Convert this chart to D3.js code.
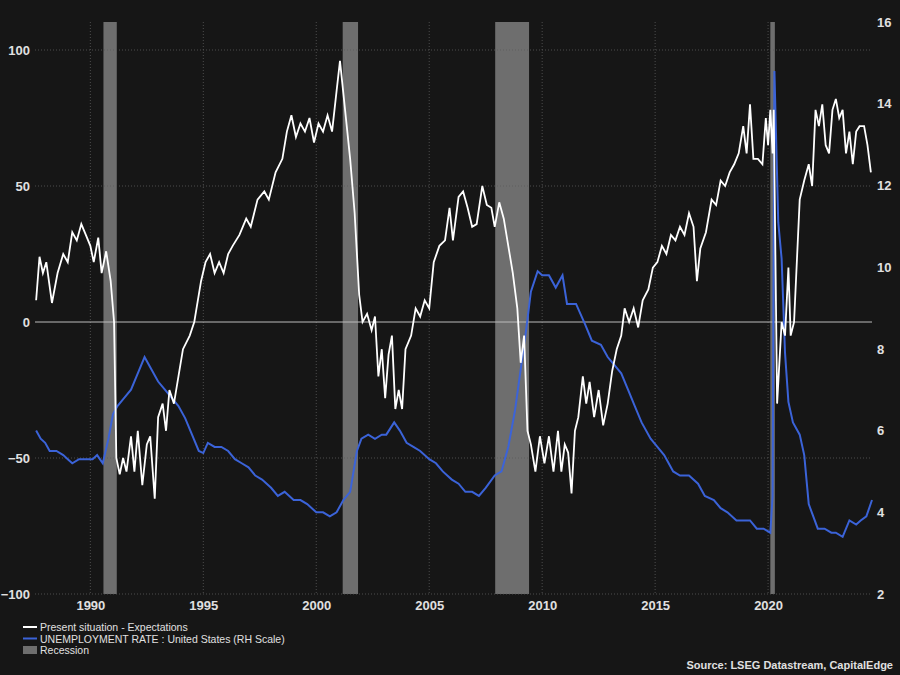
<!DOCTYPE html>
<html>
<head>
<meta charset="utf-8">
<script src="https://cdn.jsdelivr.net/npm/d3@7"></script>
<style>
  body { margin: 0; background: #161616; }
  text { font-family: "Liberation Sans Narrow", "Liberation Sans", sans-serif; }
</style>
</head>
<body>
<svg id="chart" width="900" height="675"></svg>
<script>
// Present situation - Expectations: [decimal year, value]
const presentMinusExp = [
  [1987.6, 8], [1987.75, 24], [1987.9, 18], [1988.05, 22], [1988.3, 7], [1988.55, 18], [1988.8, 25],
  [1989.0, 22], [1989.2, 33], [1989.4, 30], [1989.6, 36], [1989.8, 32], [1990.0, 28], [1990.15, 22],
  [1990.35, 31], [1990.5, 18], [1990.7, 26], [1990.9, 15], [1991.05, 0], [1991.15, -50], [1991.3, -56],
  [1991.45, -50], [1991.6, -55], [1991.8, -42], [1991.95, -55], [1992.1, -40], [1992.3, -60],
  [1992.5, -45], [1992.65, -42], [1992.85, -65], [1993.0, -35], [1993.2, -30], [1993.35, -40],
  [1993.5, -25], [1993.7, -30], [1993.9, -20], [1994.1, -10], [1994.4, -5], [1994.6, 0], [1994.9, 15],
  [1995.1, 22], [1995.3, 25], [1995.5, 18], [1995.7, 22], [1995.9, 18], [1996.1, 25], [1996.3, 28],
  [1996.6, 32], [1996.9, 38], [1997.1, 35], [1997.4, 45], [1997.7, 48], [1997.9, 45], [1998.2, 55],
  [1998.5, 60], [1998.7, 70], [1998.9, 76], [1999.1, 68], [1999.3, 73], [1999.5, 70], [1999.7, 75],
  [1999.9, 66], [2000.1, 73], [2000.3, 70], [2000.5, 76], [2000.7, 70], [2000.9, 85], [2001.05, 96],
  [2001.25, 80], [2001.5, 60], [2001.7, 40], [2001.9, 10], [2002.05, 0], [2002.25, 3], [2002.45, -3],
  [2002.6, 2], [2002.75, -20], [2002.9, -10], [2003.05, -28], [2003.2, -12], [2003.35, -5],
  [2003.5, -32], [2003.65, -25], [2003.8, -32], [2003.95, -10], [2004.2, -5], [2004.4, 5], [2004.6, 2],
  [2004.8, 8], [2005.0, 5], [2005.2, 22], [2005.45, 28], [2005.7, 30], [2005.9, 42], [2006.05, 30],
  [2006.3, 46], [2006.5, 48], [2006.7, 42], [2006.9, 35], [2007.1, 36], [2007.35, 50], [2007.55, 43],
  [2007.75, 42], [2007.9, 35], [2008.1, 44], [2008.3, 38], [2008.5, 28], [2008.7, 18], [2008.9, 5],
  [2009.05, -15], [2009.2, -5], [2009.35, -40], [2009.5, -45], [2009.7, -55], [2009.9, -42],
  [2010.1, -52], [2010.3, -42], [2010.5, -55], [2010.7, -40], [2010.85, -55], [2011.0, -45],
  [2011.15, -48], [2011.3, -63], [2011.45, -40], [2011.6, -35], [2011.8, -20], [2011.95, -30],
  [2012.1, -22], [2012.3, -35], [2012.5, -25], [2012.7, -38], [2012.9, -30], [2013.1, -18],
  [2013.3, -10], [2013.5, -5], [2013.65, 5], [2013.85, 0], [2014.05, 5], [2014.25, -2], [2014.45, 8],
  [2014.7, 12], [2014.9, 20], [2015.1, 22], [2015.3, 28], [2015.5, 25], [2015.7, 32], [2015.9, 30],
  [2016.1, 35], [2016.3, 32], [2016.5, 40], [2016.7, 35], [2016.85, 15], [2017.0, 27], [2017.25, 33],
  [2017.5, 45], [2017.7, 43], [2017.9, 52], [2018.1, 50], [2018.3, 55], [2018.5, 58], [2018.7, 62],
  [2018.9, 72], [2019.05, 62], [2019.2, 80], [2019.35, 60], [2019.55, 60], [2019.75, 58],
  [2019.9, 75], [2020.0, 65], [2020.1, 78], [2020.2, 62], [2020.25, 78], [2020.4, -30], [2020.6, 0],
  [2020.75, -5], [2020.9, 20], [2021.0, -5], [2021.15, 0], [2021.4, 45], [2021.6, 52], [2021.8, 58],
  [2021.95, 50], [2022.1, 78], [2022.25, 72], [2022.4, 80], [2022.55, 65], [2022.7, 62],
  [2022.85, 78], [2023.0, 82], [2023.15, 75], [2023.3, 78], [2023.45, 62], [2023.6, 70],
  [2023.75, 58], [2023.9, 70], [2024.05, 72], [2024.25, 72], [2024.4, 65], [2024.55, 55]
];

// UNEMPLOYMENT RATE : United States (%), right scale
const unemployment = [
  [1987.6, 6.0], [1987.8, 5.8], [1988.0, 5.7], [1988.2, 5.5], [1988.5, 5.5], [1988.8, 5.4],
  [1989.0, 5.3], [1989.2, 5.2], [1989.5, 5.3], [1989.8, 5.3], [1990.1, 5.3], [1990.3, 5.4],
  [1990.55, 5.2], [1990.8, 5.8], [1991.0, 6.4], [1991.2, 6.6], [1991.5, 6.8], [1991.8, 7.0],
  [1992.1, 7.4], [1992.4, 7.8], [1992.7, 7.5], [1993.0, 7.2], [1993.3, 7.0], [1993.6, 6.8],
  [1993.9, 6.6], [1994.2, 6.3], [1994.5, 5.9], [1994.8, 5.5], [1995.0, 5.45], [1995.2, 5.7],
  [1995.5, 5.6], [1995.8, 5.6], [1996.1, 5.5], [1996.4, 5.3], [1996.7, 5.2], [1997.0, 5.1],
  [1997.3, 4.9], [1997.6, 4.8], [1998.0, 4.6], [1998.3, 4.4], [1998.6, 4.5], [1999.0, 4.3],
  [1999.3, 4.3], [1999.6, 4.2], [2000.0, 4.0], [2000.3, 4.0], [2000.6, 3.9], [2000.9, 4.0],
  [2001.2, 4.3], [2001.5, 4.5], [2001.8, 5.5], [2002.0, 5.8], [2002.3, 5.9], [2002.6, 5.8],
  [2002.9, 5.9], [2003.1, 5.9], [2003.45, 6.2], [2003.7, 6.0], [2004.0, 5.7], [2004.3, 5.6],
  [2004.6, 5.5], [2005.0, 5.3], [2005.3, 5.2], [2005.6, 5.0], [2006.0, 4.8], [2006.3, 4.7],
  [2006.6, 4.5], [2006.9, 4.5], [2007.2, 4.4], [2007.5, 4.6], [2007.9, 4.9], [2008.2, 5.0],
  [2008.5, 5.6], [2008.8, 6.5], [2009.0, 7.3], [2009.3, 8.5], [2009.5, 9.4], [2009.8, 9.9],
  [2010.0, 9.8], [2010.3, 9.8], [2010.6, 9.5], [2010.9, 9.8], [2011.1, 9.1], [2011.5, 9.1],
  [2011.9, 8.6], [2012.2, 8.2], [2012.6, 8.1], [2012.9, 7.8], [2013.2, 7.6], [2013.5, 7.4],
  [2013.8, 7.0], [2014.1, 6.6], [2014.4, 6.2], [2014.8, 5.8], [2015.1, 5.6], [2015.4, 5.4],
  [2015.8, 5.0], [2016.1, 4.9], [2016.5, 4.9], [2016.9, 4.7], [2017.2, 4.4], [2017.6, 4.3],
  [2017.9, 4.1], [2018.2, 4.0], [2018.6, 3.8], [2018.9, 3.8], [2019.2, 3.8], [2019.5, 3.6],
  [2019.8, 3.6], [2020.1, 3.5], [2020.2, 4.4], [2020.28, 14.8], [2020.45, 11.1], [2020.6, 10.2],
  [2020.75, 7.9], [2020.9, 6.7], [2021.1, 6.2], [2021.4, 5.9], [2021.6, 5.4], [2021.8, 4.2],
  [2022.0, 3.9], [2022.2, 3.6], [2022.5, 3.6], [2022.8, 3.5], [2023.0, 3.5], [2023.3, 3.4],
  [2023.6, 3.8], [2023.9, 3.7], [2024.1, 3.8], [2024.35, 3.9], [2024.6, 4.3]
];

// recession periods [start, end]
const recessions = [[1990.58, 1991.17], [2001.17, 2001.85], [2007.92, 2009.42], [2020.1, 2020.3]];

const leftTicks = [-100, -50, 0, 50, 100];
const rightTicks = [2, 4, 6, 8, 10, 12, 14, 16];
const yearTicks = [1990, 1995, 2000, 2005, 2010, 2015, 2020];

const svg = d3.select('#chart');
const margin = { top: 22, right: 28, bottom: 81, left: 35 };
const width = 900, height = 675;

const x = d3.scaleLinear().domain([1987.55, 2024.6]).range([margin.left, width - margin.right]);
const yL = d3.scaleLinear().domain([-100, 100]).range([594, 50]);
const yR = d3.scaleLinear().domain([2, 16]).range([594, 22]);

svg.append('rect').attr('width', width).attr('height', height).attr('fill', '#161616');

// recessions
svg.append('g').selectAll('rect')
  .data(recessions)
  .enter().append('rect')
  .attr('x', d => x(d[0]))
  .attr('width', d => x(d[1]) - x(d[0]))
  .attr('y', margin.top)
  .attr('height', 594 - margin.top)
  .attr('fill', '#6e6e6e');

// grid
const grid = svg.append('g').attr('stroke', '#5a5a5a').attr('stroke-dasharray', '1,2').attr('stroke-width', 0.8);
yearTicks.forEach(t => grid.append('line').attr('x1', x(t)).attr('x2', x(t)).attr('y1', margin.top).attr('y2', 594));
[50, 100, -50].forEach(t => grid.append('line').attr('x1', margin.left).attr('x2', width - margin.right).attr('y1', yL(t)).attr('y2', yL(t)));
grid.append('line').attr('x1', margin.left).attr('x2', width - margin.right).attr('y1', 594).attr('y2', 594);
svg.append('line').attr('x1', margin.left).attr('x2', width - margin.right)
  .attr('y1', yL(0)).attr('y2', yL(0)).attr('stroke', '#bbbbbb').attr('stroke-width', 1);

// axes
const styleAxis = g => {
  g.select('.domain').remove();
  g.selectAll('line').remove();
  g.selectAll('text').attr('fill', '#e0e0e0').attr('font-size', 13).attr('font-weight', 'bold');
};
svg.append('g').attr('transform', `translate(${margin.left - 2},0)`)
  .call(d3.axisLeft(yL).tickValues(leftTicks).tickSize(0)).call(styleAxis);
svg.append('g').attr('transform', `translate(${width - margin.right + 2},0)`)
  .call(d3.axisRight(yR).tickValues(rightTicks).tickSize(0)).call(styleAxis);
svg.append('g').attr('transform', `translate(0,598)`)
  .call(d3.axisBottom(x).tickValues(yearTicks).tickFormat(d3.format('d')).tickSize(0)).call(styleAxis);

// lines
const lineL = d3.line().x(d => x(d[0])).y(d => yL(d[1]));
const lineR = d3.line().x(d => x(d[0])).y(d => yR(d[1]));
svg.append('path').datum(unemployment).attr('d', lineR)
  .attr('fill', 'none').attr('stroke', '#3b63d8').attr('stroke-width', 2);
svg.append('path').datum(presentMinusExp).attr('d', lineL)
  .attr('fill', 'none').attr('stroke', '#ffffff').attr('stroke-width', 1.8);

// legend
const legend = svg.append('g').attr('transform', 'translate(23,627)');
const items = [
  { label: 'Present situation - Expectations', color: '#ffffff', type: 'line' },
  { label: 'UNEMPLOYMENT RATE : United States (RH Scale)', color: '#3b63d8', type: 'line' },
  { label: 'Recession', color: '#6e6e6e', type: 'box' }
];
items.forEach((it, i) => {
  const g = legend.append('g').attr('transform', `translate(0,${i * 11.5})`);
  if (it.type === 'line') {
    g.append('line').attr('x1', 0).attr('x2', 14).attr('y1', 0).attr('y2', 0).attr('stroke', it.color).attr('stroke-width', 2);
  } else {
    g.append('rect').attr('x', 0).attr('y', -4).attr('width', 14).attr('height', 8).attr('fill', it.color);
  }
  g.append('text').attr('x', 17).attr('y', 4).attr('fill', '#e0e0e0').attr('font-size', 10.5).text(it.label);
});

svg.append('text').attr('x', 893).attr('y', 669).attr('text-anchor', 'end')
  .attr('fill', '#e0e0e0').attr('font-size', 11).attr('font-weight', 'bold')
  .text('Source: LSEG Datastream, CapitalEdge');
</script>
</body>
</html>
